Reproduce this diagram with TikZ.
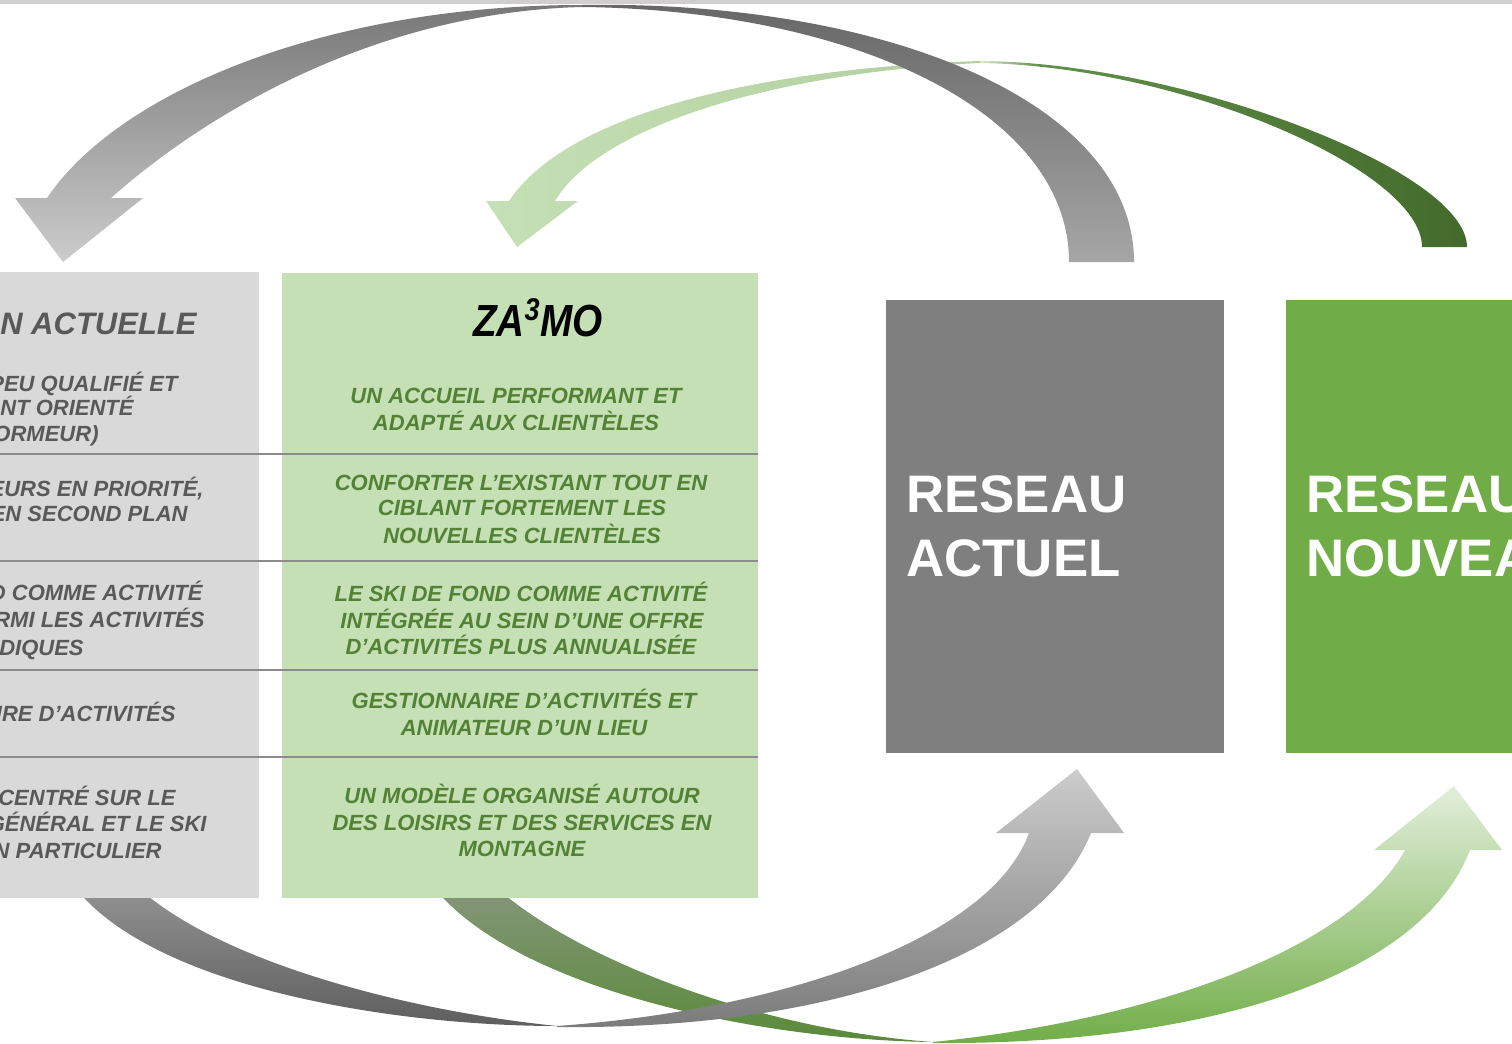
\documentclass[tikz,border=0pt]{standalone}
\usepackage{fontspec}
\setmainfont{Liberation Sans}
\usepackage{xcolor}
\definecolor{rulegray}{HTML}{D0CECE}
\definecolor{colgray}{HTML}{D9D9D9}
\definecolor{colgreen}{HTML}{C5E0B4}
\definecolor{netgray}{HTML}{7F7F7F}
\definecolor{netgreen}{HTML}{70AD47}
\definecolor{txtgray}{HTML}{595959}
\definecolor{txtgreen}{HTML}{538135}
\definecolor{sepgray}{HTML}{8C8C8C}
\definecolor{tailpale}{HTML}{DDE9D4}
\definecolor{tailmid}{HTML}{62904C}
\definecolor{taildark}{HTML}{436A2B}
\usetikzlibrary{shadings}

\pgfdeclarehorizontalshading{greentail}{100bp}{color(0bp)=(tailpale); color(25bp)=(tailpale);
  color(31bp)=(tailmid); color(75bp)=(taildark); color(100bp)=(taildark)}

\tikzset{
  oldline/.style={anchor=base east, inner sep=0pt, text=txtgray,
    font=\fontsize{11}{13}\selectfont\bfseries\itshape},
  newline/.style={anchor=base, inner sep=0pt, text=txtgreen,
    font=\fontsize{11}{13}\selectfont\bfseries\itshape},
  nettext/.style={anchor=north west, inner sep=0pt, text=white, align=left,
    font=\fontsize{26.4}{32}\selectfont\bfseries},
}

\begin{document}
\begin{tikzpicture}[x=0.5pt, y=-0.5pt]
  \useasboundingbox (0,0) rectangle (1512,1044);
  % Rule on top
  \fill[rulegray] (0,0) rectangle (1512,4);

  % Upper green arrow (tail, then head part)
  \shade[shading=greentail] (980,61) .. controls (1180,62) and (1467,170) .. (1467,247)
    -- (1422,247) .. controls (1422,170) and (1180,66) .. (980,63) -- cycle;
  \shade[left color=colgreen, right color=colgreen!85!taildark] (980,61)
    .. controls (770,68) and (570,110) .. (509,201) -- (486,201) -- (517,247) -- (578,201)
    -- (555,201) .. controls (600,125) and (780,72) .. (980,63) -- cycle;

  % Upper gray arrow
  \shade[top color=black!60, bottom color=black!35] (582,5) .. controls (880,0) and (1134,100) .. (1134,262)
    -- (1069,262) .. controls (1069,110) and (850,10) .. (582,7) -- cycle;
  \shade[top color=black!53, bottom color=black!20] (582,5) .. controls (330,5) and (120,90) .. (47,198)
    -- (15,198) -- (63,262) -- (143,198) -- (111,198) .. controls (210,110) and (380,12) .. (582,7) -- cycle;

  % Lower green arrow
  \shade[top color=colgreen!40!black!55!colgreen, bottom color=netgreen!80!black] (436,890)
    .. controls (520,990) and (760,1040) .. (933,1042) .. controls (760,1030) and (580,960) .. (499,890) -- cycle;
  \shade[top color=netgreen!20, bottom color=netgreen] (933,1042) .. controls (1150,1020) and (1350,950) .. (1405,850)
    -- (1374,850) -- (1454,786) -- (1502,850) -- (1470,850) .. controls (1420,980) and (1200,1045) .. (933,1043) -- cycle;

  % Lower gray arrow
  \shade[top color=black!43, bottom color=black!63] (77,890) .. controls (160,990) and (400,1026) .. (557,1026)
    .. controls (400,1010) and (220,960) .. (141,890) -- cycle;
  \shade[top color=black!20, bottom color=black!52] (557,1026) .. controls (780,1010) and (990,940) .. (1029,833)
    -- (996,833) -- (1077,769) -- (1124,833) -- (1091,833) .. controls (1040,960) and (820,1030) .. (557,1027) -- cycle;

  % Columns
  \fill[colgray] (0,272) rectangle (259,898);
  \fill[colgreen] (282,273) rectangle (758,898);
  \foreach \y in {454,561,670,757}
    \draw[sepgray, line width=0.85pt] (0,\y) -- (758,\y);

  % Networks
  \fill[netgray] (886,300) rectangle (1224,753);
  \fill[netgreen] (1286,300) rectangle (1530,753);
  \node[nettext] (actuel) at (906,475) {RESEAU\\ACTUEL};
  \node[nettext] (nouveau) at (1306,475) {RESEAU\\NOUVEA};

  % Current situation column
  \node[anchor=base east, inner sep=0pt, text=txtgray,
    font=\fontsize{15.5}{18}\selectfont\bfseries\itshape] (oldtitle) at (197,334) {N ACTUELLE};
  \foreach \x/\y/\t [count=\i] in {178/391/{PEU QUALIFIÉ ET}, 134/415/{NT ORIENTÉ}, 99/441/{ORMEUR)},
      204/496/{EURS EN PRIORITÉ,}, 188/521/{EN SECOND PLAN},
      203/600/{D COMME ACTIVITÉ}, 205/627/{RMI LES ACTIVITÉS}, 84/655/{DIQUES},
      176/721/{IRE D’ACTIVITÉS},
      176/805/{CENTRÉ SUR LE}, 207/831/{GÉNÉRAL ET LE SKI}, 162/858/{N PARTICULIER}}
    \node[oldline] (old-\i) at (\x,\y) {\t};

  % ZA3MO column
  \node[anchor=base, inner sep=0pt, font=\fontsize{22.5}{26}\selectfont\bfseries\itshape] (zamo)
    at (538,336) {\scalebox{0.86}[1]{ZA\textsuperscript{3}MO}};
  \foreach \x/\y/\t [count=\i] in {516/403/{UN ACCUEIL PERFORMANT ET}, 516/430/{ADAPTÉ AUX CLIENTÈLES},
      521/490/{CONFORTER L’EXISTANT TOUT EN}, 522/515/{CIBLANT FORTEMENT LES}, 522/543/{NOUVELLES CLIENTÈLES},
      521/601/{LE SKI DE FOND COMME ACTIVITÉ}, 522/628/{INTÉGRÉE AU SEIN D’UNE OFFRE}, 521/654/{D’ACTIVITÉS PLUS ANNUALISÉE},
      524/708/{GESTIONNAIRE D’ACTIVITÉS ET}, 524/735/{ANIMATEUR D’UN LIEU},
      522/803/{UN MODÈLE ORGANISÉ AUTOUR}, 522/830/{DES LOISIRS ET DES SERVICES EN}, 522/856/{MONTAGNE}}
    \node[newline] (new-\i) at (\x,\y) {\t};
\end{tikzpicture}
\end{document}
